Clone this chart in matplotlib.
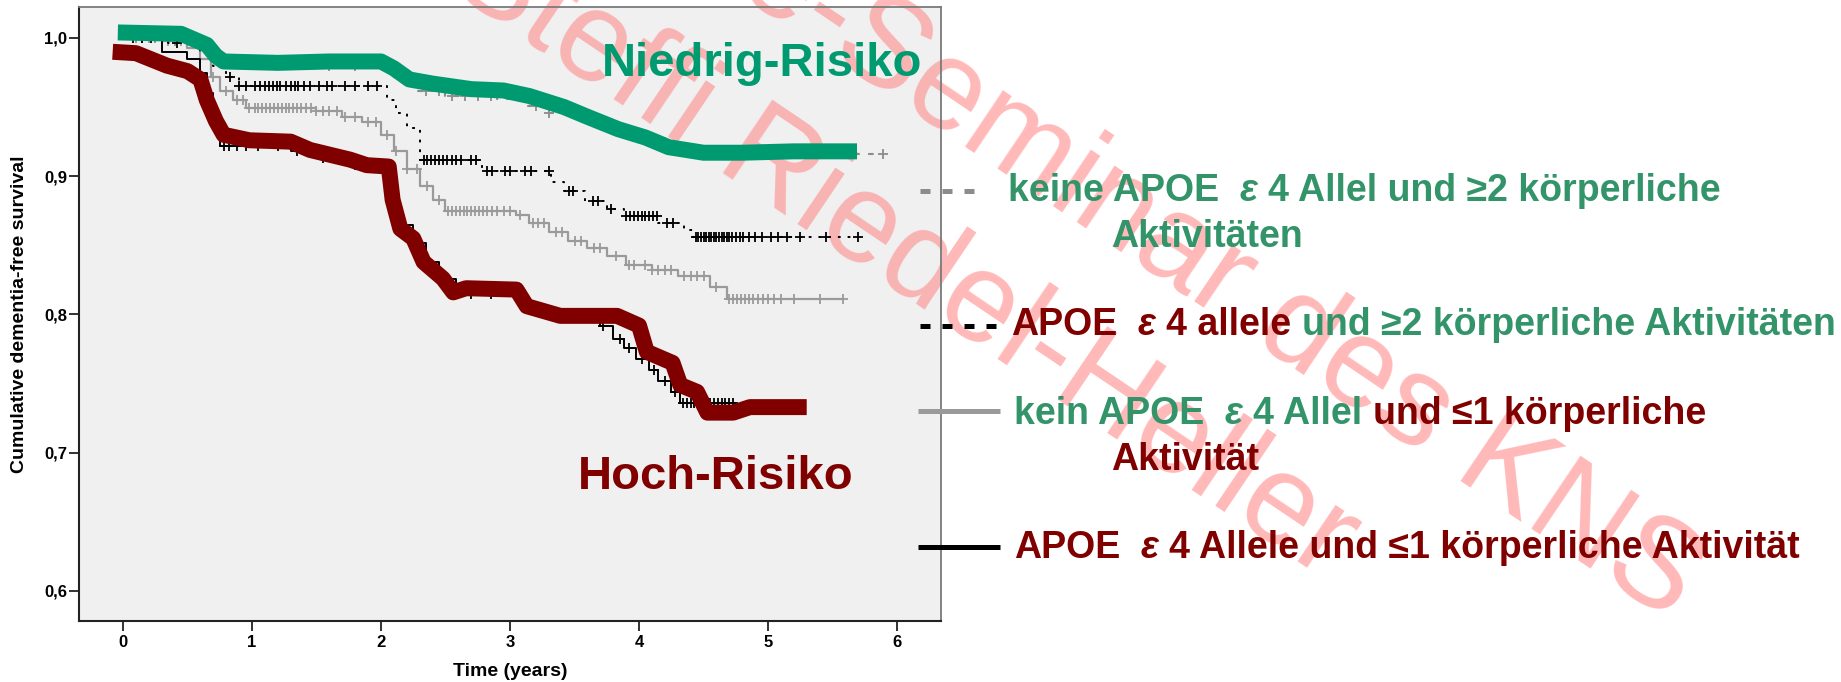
import numpy as np
import matplotlib.pyplot as plt
from matplotlib.lines import Line2D

plt.rcParams['font.family'] = ['Liberation Sans', 'DejaVu Sans']
plt.rcParams['lines.scale_dashes'] = False

# Kaplan-Meier steps (time in years, cumulative dementia-free survival)
nolow_t = [0, 0.3, 0.55, 0.65, 0.75, 1.0, 1.5, 2.0, 2.1, 2.25, 2.5, 2.9, 3.1, 3.3, 3.5, 3.7, 3.9, 4.1, 4.3, 4.5, 5.89]
nolow_s = [1.0, 0.998, 0.994, 0.988, 0.982, 0.981, 0.980, 0.978, 0.970, 0.962, 0.958, 0.956, 0.951, 0.946, 0.942, 0.936, 0.930, 0.925, 0.921, 0.916, 0.916]
nolow_cens = [0.1, 0.25, 0.4, 0.8, 1.0, 1.2, 1.4, 1.6, 1.8, 2.35, 2.45, 2.55, 2.65, 2.75, 2.85,
              3.2, 3.3, 3.6, 3.95, 4.2, 4.6, 4.8, 5.0, 5.2, 5.4, 5.89]

apoe_act_t = [0, 0.35, 0.6, 0.7, 0.8, 0.9, 2.05, 2.12, 2.2, 2.3, 2.78, 3.32, 3.42, 3.58, 3.75, 3.88, 4.15, 4.35, 4.42, 5.70]
apoe_act_s = [1.0, 0.996, 0.99, 0.98, 0.972, 0.965, 0.955, 0.946, 0.935, 0.912, 0.904, 0.896, 0.889, 0.882, 0.876, 0.871, 0.866, 0.861, 0.856, 0.856]
apoe_act_cens = [0.08, 0.15, 0.22, 0.3, 0.42, 0.83, 0.9, 0.95, 1.02, 1.06, 1.1, 1.13, 1.16, 1.19, 1.22, 1.26,
                 1.3, 1.33, 1.36, 1.4, 1.45, 1.52, 1.58, 1.62, 1.72, 1.8, 1.9, 1.97, 2.33, 2.36, 2.39, 2.42,
                 2.45, 2.48, 2.51, 2.55, 2.58, 2.62, 2.7, 2.74, 2.82, 2.86, 2.96, 3.0, 3.12, 3.16, 3.3, 3.46,
                 3.49, 3.64, 3.68, 3.78, 3.9, 3.93, 3.96, 3.99, 4.02, 4.05, 4.08, 4.11, 4.14, 4.22, 4.26,
                 4.44, 4.46, 4.48, 4.5, 4.52, 4.54, 4.56, 4.58, 4.6, 4.62, 4.64, 4.66, 4.68, 4.7, 4.72,
                 4.75, 4.78, 4.81, 4.85, 4.9, 4.95, 5.02, 5.08, 5.15, 5.25, 5.45, 5.7]

noapoe_inact_t = [0, 0.3, 0.5, 0.6, 0.68, 0.75, 0.85, 0.95, 1.5, 1.7, 1.85, 2.0, 2.1, 2.2, 2.3, 2.4, 2.5, 3.05, 3.15,
                  3.3, 3.45, 3.6, 3.75, 3.9, 4.1, 4.3, 4.55, 4.68, 5.58]
noapoe_inact_s = [1.0, 0.998, 0.993, 0.985, 0.972, 0.962, 0.955, 0.949, 0.947, 0.943, 0.939, 0.930, 0.918, 0.905,
                  0.893, 0.883, 0.875, 0.872, 0.866, 0.860, 0.853, 0.848, 0.842, 0.836, 0.832, 0.828, 0.820, 0.811, 0.811]
noapoe_inact_cens = [0.2, 0.35, 0.45, 0.7, 0.8, 0.88, 0.93, 0.98, 1.02, 1.05, 1.08, 1.11, 1.14, 1.17, 1.2, 1.23,
                     1.26, 1.29, 1.32, 1.35, 1.38, 1.42, 1.46, 1.5, 1.55, 1.6, 1.66, 1.72, 1.8, 1.9, 1.96, 2.05,
                     2.12, 2.2, 2.28, 2.36, 2.45, 2.52, 2.55, 2.58, 2.61, 2.64, 2.67, 2.7, 2.73, 2.76, 2.79, 2.82,
                     2.86, 2.9, 2.95, 3.0, 3.08, 3.18, 3.22, 3.26, 3.36, 3.4, 3.5, 3.55, 3.65, 3.7, 3.82, 3.92,
                     3.96, 4.05, 4.1, 4.15, 4.2, 4.25, 4.35, 4.4, 4.45, 4.5, 4.6, 4.7, 4.73, 4.76, 4.79, 4.82,
                     4.85, 4.88, 4.92, 4.96, 5.0, 5.05, 5.1, 5.2, 5.4, 5.58]

apoe_inact_t = [0, 0.3, 0.5, 0.6, 0.65, 0.7, 0.75, 1.3, 1.5, 1.75, 2.07, 2.12, 2.25, 2.35, 2.45, 2.58, 3.05, 3.15,
                3.4, 3.7, 3.8, 3.88, 3.98, 4.08, 4.15, 4.25, 4.32, 4.75]
apoe_inact_s = [1.0, 0.99, 0.985, 0.975, 0.96, 0.94, 0.922, 0.918, 0.913, 0.908, 0.89, 0.865, 0.852, 0.838, 0.826,
                0.815, 0.810, 0.802, 0.799, 0.792, 0.782, 0.776, 0.768, 0.760, 0.752, 0.744, 0.736, 0.736]
apoe_inact_cens = [0.15, 0.78, 0.82, 0.88, 0.95, 1.05, 1.2, 1.35, 1.42, 1.55, 1.62, 1.8, 1.95, 2.7, 2.85, 3.08,
                   3.2, 3.5, 3.72, 3.85, 3.92, 4.02, 4.12, 4.2, 4.28, 4.34, 4.37, 4.4, 4.43, 4.46, 4.49, 4.52,
                   4.55, 4.58, 4.61, 4.64, 4.67, 4.7, 4.73]

# hand-drawn highlight bands over the extreme groups
low_risk_x = [-0.04, 0.45, 0.55, 0.65, 0.72, 0.78, 1.2, 1.6, 2.0, 2.1, 2.22, 2.4, 2.7, 2.95, 3.15, 3.42, 3.6,
              3.84, 4.05, 4.23, 4.5, 4.8, 5.2, 5.69]
low_risk_y = [1.004, 1.003, 0.999, 0.995, 0.987, 0.983, 0.982, 0.983, 0.983, 0.978, 0.970, 0.967, 0.963, 0.962,
              0.958, 0.950, 0.943, 0.934, 0.928, 0.921, 0.917, 0.917, 0.918, 0.918]
high_risk_x = [-0.08, 0.1, 0.34, 0.5, 0.6, 0.65, 0.72, 0.78, 0.98, 1.3, 1.45, 1.76, 1.89, 2.06, 2.09, 2.15, 2.25,
               2.33, 2.48, 2.56, 2.66, 3.05, 3.13, 3.39, 3.83, 4.0, 4.06, 4.26, 4.32, 4.45, 4.53, 4.73, 4.86, 5.30]
high_risk_y = [0.990, 0.989, 0.980, 0.976, 0.970, 0.955, 0.940, 0.930, 0.926, 0.925, 0.919, 0.912, 0.908, 0.907,
               0.883, 0.862, 0.855, 0.838, 0.826, 0.816, 0.819, 0.818, 0.806, 0.799, 0.799, 0.792, 0.773, 0.765,
               0.749, 0.744, 0.729, 0.729, 0.733, 0.733]

y_ticks = [0.6, 0.7, 0.8, 0.9, 1.0]
y_labels = ['0,6', '0,7', '0,8', '0,9', '1,0']
x_ticks = [0, 1, 2, 3, 4, 5, 6]

GREEN = '#009a70'
TXT_GREEN = '#33946a'
DARKRED = '#800000'

W, H = 1841, 682
fig = plt.figure(figsize=(W / 100, H / 100), dpi=100, facecolor='white')
ax = fig.add_axes([79 / W, 1 - 621 / H, 862 / W, 614 / H])
ax.set_facecolor('#f0f0f0')


def km(ax, t, s, cens, color, ls, lw):
    t = np.asarray(t)
    s = np.asarray(s)
    ax.step(t, s, where='post', color=color, linestyle=ls, lw=lw, zorder=2)
    c = np.asarray(cens)
    idx = np.searchsorted(t, c, side='right') - 1
    ax.plot(c, s[idx], '+', color=color, ms=7, mew=1.3, zorder=2)


km(ax, nolow_t, nolow_s, nolow_cens, '#8c8c8c', (0, (4, 6)), 1.5)
km(ax, noapoe_inact_t, noapoe_inact_s, noapoe_inact_cens, '#9a9a9a', '-', 1.6)
km(ax, apoe_act_t, apoe_act_s, apoe_act_cens, 'black', (0, (2, 5)), 1.4)
km(ax, apoe_inact_t, apoe_inact_s, apoe_inact_cens, 'black', '-', 1.4)

ax.plot(low_risk_x, low_risk_y, color=GREEN, lw=11.5, solid_joinstyle='round', solid_capstyle='butt', zorder=5)
ax.plot(high_risk_x, high_risk_y, color=DARKRED, lw=11.5, solid_joinstyle='round', solid_capstyle='butt', zorder=5)

ax.text(3.71, 0.9726, 'Niedrig-Risiko', color=GREEN, fontsize=34, fontweight='bold', va='baseline', zorder=6)
ax.text(3.53, 0.6737, 'Hoch-Risiko', color=DARKRED, fontsize=34, fontweight='bold', va='baseline', zorder=6)

ax.set_xlim(-0.341, 6.341)
ax.set_ylim(0.5783, 1.0224)
ax.set_xticks(x_ticks)
ax.set_xticklabels([str(v) for v in x_ticks])
ax.set_yticks(y_ticks)
ax.set_yticklabels(y_labels)
ax.tick_params(direction='out', length=7, width=1.3, labelsize=12, color='#222222')
ax.tick_params(axis='y', pad=1.5)
ax.tick_params(axis='x', pad=3)
for lab in ax.get_xticklabels() + ax.get_yticklabels():
    lab.set_fontweight('bold')
for side in ['left', 'bottom']:
    ax.spines[side].set_color('#222222')
    ax.spines[side].set_linewidth(1.5)
for side in ['top', 'right']:
    ax.spines[side].set_color('#7a7a7a')
    ax.spines[side].set_linewidth(1.3)

ax.set_xlabel('Time (years)', fontsize=14, fontweight='bold')
ax.xaxis.set_label_coords(0.5, (621 - 672) / 614)
ax.xaxis.label.set_va('center')
ax.set_ylabel('Cumulative dementia-free survival', fontsize=14, fontweight='bold')
ax.yaxis.set_label_coords((20 - 79) / 862, 0.5)
ax.yaxis.label.set_va('center')

# watermark
for txt, xe, ye in [('Online-Seminar des KNS', 1669, 622), ('Steffi Riedel-Heller', 1325, 580)]:
    ax.text(xe / W, 1 - ye / H, txt, transform=fig.transFigure, fontsize=92, color='#ff8a8a', alpha=0.6,
            rotation=-34, rotation_mode='anchor', ha='right', va='baseline', clip_on=False, zorder=1.5)

# legend keys
keys = [(191, '#8c8c8c', (0, (7.2, 8.64)), 920, 975),
        (326, 'black', (0, (7.2, 8.64)), 920, 998),
        (411, '#9a9a9a', '-', 918, 1000),
        (547, 'black', '-', 918, 1000)]
for yk, col, ls, x0, x1 in keys:
    fig.add_artist(Line2D([x0 / W, x1 / W], [1 - yk / H] * 2, transform=fig.transFigure,
                          color=col, linestyle=ls, lw=3.6, solid_capstyle='butt', dash_capstyle='butt'))

renderer = fig.canvas.get_renderer()
LEG_SIZE = 27


def text_width(s):
    t = fig.text(0, 0, s, fontsize=LEG_SIZE, fontweight='bold')
    w = t.get_window_extent(renderer).width
    t.remove()
    return w


space_w = text_width('a a') - text_width('aa')


def legend_line(x_px, base_px, parts):
    # parts: (text, colour, font style, spaces before the segment)
    x = x_px
    for s, col, style, gap in parts:
        x += gap * space_w
        t = fig.text(x / W, 1 - base_px / H, s, fontsize=LEG_SIZE, fontweight='bold', fontstyle=style,
                     color=col, ha='left', va='baseline')
        x = t.get_window_extent(renderer).x1


legend_line(1008, 201, [('keine APOE', TXT_GREEN, 'normal', 0), ('ε', TXT_GREEN, 'italic', 2),
                        ('4 Allel und ≥2 körperliche', TXT_GREEN, 'normal', 1)])
legend_line(1111, 247, [('Aktivitäten', TXT_GREEN, 'normal', 0)])
legend_line(1011, 335, [('APOE', DARKRED, 'normal', 0), ('ε', DARKRED, 'italic', 2),
                        ('4 allele', DARKRED, 'normal', 1),
                        ('und ≥2 körperliche Aktivitäten', TXT_GREEN, 'normal', 1)])
legend_line(1014, 424, [('kein APOE', TXT_GREEN, 'normal', 0), ('ε', TXT_GREEN, 'italic', 2),
                        ('4 Allel', TXT_GREEN, 'normal', 1), ('und ≤1 körperliche', DARKRED, 'normal', 1)])
legend_line(1111, 470, [('Aktivität', DARKRED, 'normal', 0)])
legend_line(1014, 558, [('APOE', DARKRED, 'normal', 0), ('ε', DARKRED, 'italic', 2),
                        ('4 Allele und ≤1 körperliche Aktivität', DARKRED, 'normal', 1)])

fig.savefig('out.png', dpi=100, facecolor='white')
